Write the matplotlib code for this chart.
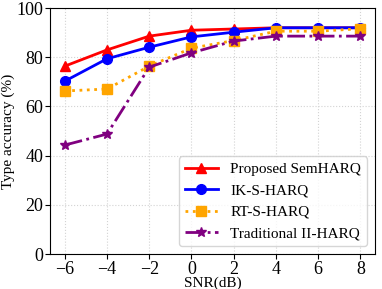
import matplotlib
matplotlib.use("Agg")
import matplotlib.pyplot as plt

plt.rcParams['font.family'] = ['Liberation Serif', 'DejaVu Serif']

snr = [-6, -4, -2, 0, 2, 4, 6, 8]
proposed = [76.4, 83.0, 88.6, 91.0, 91.5, 92.0, 92.0, 92.0]
ik = [70.3, 79.4, 84.1, 88.3, 90.2, 92.0, 92.0, 92.0]
rt = [66.3, 67.1, 76.4, 83.7, 86.8, 90.6, 90.6, 91.6]
trad = [44.3, 48.8, 76.0, 81.8, 86.6, 88.6, 88.6, 88.6]

fig, ax = plt.subplots(figsize=(3.82, 2.89), dpi=100)
ax.plot(snr, proposed, color='red', marker='^', lw=2, ms=7, label='Proposed SemHARQ')
ax.plot(snr, ik, color='blue', marker='o', lw=2, ms=7, label='IK-S-HARQ')
ax.plot(snr, rt, color='orange', marker='s', lw=2, ms=7, ls=':', label='RT-S-HARQ')
ax.plot(snr, trad, color='purple', marker='*', lw=2, ms=7, ls='-.', label='Traditional II-HARQ')

ax.set_ylim(0, 100)
ax.set_xticks(snr)
ax.set_xticklabels(['\u22126', '\u22124', '\u22122', '0', '2', '4', '6', '8'])
ax.set_yticks([0, 20, 40, 60, 80, 100])
ax.tick_params(labelsize=13, pad=1.5)
ax.set_xlabel('SNR(dB)', fontsize=11, labelpad=-1)
ax.set_ylabel('Type accuracy (%)', fontsize=11, labelpad=1)
ax.grid(True, ls=':', color='lightgray')
ax.legend(loc='lower right', fontsize=11, handlelength=2.2)
fig.subplots_adjust(left=0.131, right=0.982, top=0.972, bottom=0.121)
fig.savefig('out.png', dpi=100)
